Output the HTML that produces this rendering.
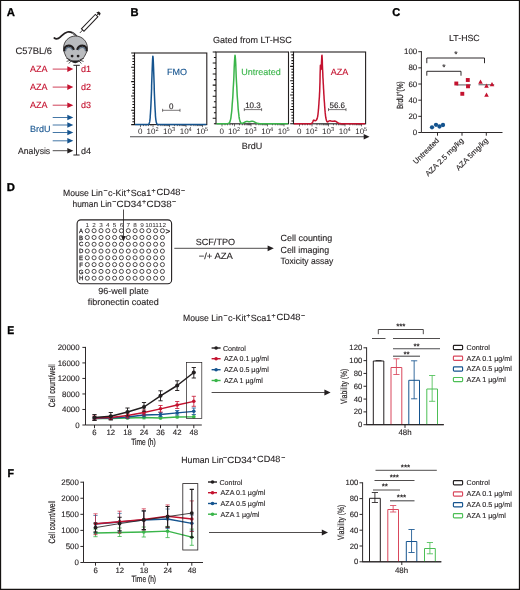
<!DOCTYPE html>
<html lang="en">
<head>
<meta charset="utf-8">
<title>Figure</title>
<style>
html,body{margin:0;padding:0;background:#fff;}
body{width:520px;height:590px;overflow:hidden;}
svg{display:block;}
svg text{font-family:"Liberation Sans",sans-serif;stroke-width:0.12px;text-rendering:geometricPrecision;}
</style>
</head>
<body>
<svg width="520" height="590" viewBox="0 0 520 590">
<rect x="0" y="0" width="520" height="590" fill="#fff"/>
<text transform="translate(6.8,15.8) scale(1,1)" font-size="11.3" font-weight="bold" fill="#000" stroke="#000" style="stroke-width:0.3px">A</text>
<text transform="translate(130.5,15.8) scale(0.99,1)" font-size="11.3" font-weight="bold" fill="#000" stroke="#000" style="stroke-width:0.3px">B</text>
<text transform="translate(392.3,15.7) scale(0.98,1)" font-size="11.3" font-weight="bold" fill="#000" stroke="#000" style="stroke-width:0.3px">C</text>
<text transform="translate(6.8,190.5) scale(1,1)" font-size="11.3" font-weight="bold" fill="#000" stroke="#000" style="stroke-width:0.3px">D</text>
<text transform="translate(7.3,333.9) scale(0.92,1)" font-size="11.3" font-weight="bold" fill="#000" stroke="#000" style="stroke-width:0.3px">E</text>
<text transform="translate(7.5,477.1) scale(0.94,1)" font-size="11.3" font-weight="bold" fill="#000" stroke="#000" style="stroke-width:0.3px">F</text>
<g transform="translate(79.800,33) rotate(-46)" stroke="#231f20" fill="none" stroke-width="1.050"><line x1="0" y1="0" x2="4.200" y2="0" stroke-width="0.8"/><rect x="4.200" y="-1.750" width="20" height="3.500" fill="#fff"/><line x1="24.200" y1="0" x2="27" y2="0" stroke-width="0.9"/><polygon points="26.300,-2.400 28.700,-1.200 28.700,1.200 26.300,2.400" fill="#231f20" stroke="none"/></g>
<g><path d="M54.300,38 C55.800,39.300 58,39.200 60.500,36.900 C62.700,34.800 64.500,32.600 67.500,32 C70.800,31.400 73.500,32.800 76.500,36" fill="none" stroke="#231f20" stroke-width="1.700" stroke-linecap="round"/><path d="M72,32.900 C73.800,33.500 75.300,34.700 76.600,36.200" fill="none" stroke="#a7a9ac" stroke-width="0.8"/><path d="M75.500,36 C82,36 87.400,41.200 87.400,48 C87.400,50.500 86.600,52.500 84.500,56.300 C83.300,58.300 82,59.500 80.500,60.500 C78.800,61.700 77,62.400 75.200,62.800 C73.400,62.400 71.600,61.700 69.900,60.500 C68.400,59.500 67.100,58.300 65.900,56.300 C64.100,52.500 63.600,50.500 63.600,48 C63.600,41.200 69,36 75.500,36 Z" fill="#babcbf" stroke="#231f20" stroke-width="0.8" stroke-linejoin="round"/><path d="M64.300,51.200 C64.200,47.600 66,45.700 68.600,45.700 C71.100,45.700 73,47.300 73.800,49.900" fill="none" stroke="#231f20" stroke-width="2.300"/><path d="M86.700,51.200 C86.800,47.600 85,45.700 82.400,45.700 C79.900,45.700 78,47.300 77.200,49.900" fill="none" stroke="#231f20" stroke-width="2.300"/><path d="M65.700,50.600 C65.800,48.500 67,47.400 68.800,47.400 C70.500,47.400 71.700,48.300 72.400,49.700" fill="none" stroke="#5d7186" stroke-width="1.100" stroke-linecap="round"/><path d="M85.300,50.600 C85.200,48.500 84,47.400 82.200,47.400 C80.500,47.400 79.300,48.300 78.600,49.700" fill="none" stroke="#5d7186" stroke-width="1.100" stroke-linecap="round"/><circle cx="72.100" cy="56.100" r="1.400" fill="#231f20"/><circle cx="78.100" cy="56.100" r="1.400" fill="#231f20"/><path d="M70.300,59.700 Q75.100,61.400 79.900,59.700 Q78,62.200 75.100,63 Q72.200,62.200 70.300,59.700 Z" fill="#231f20"/><path d="M70.300,59.700 L66.300,58.300 M70.300,60.300 L66.600,61.400 M71,61 L68.800,63.600 M79.900,59.700 L83.900,58.300 M79.900,60.300 L83.600,61.400 M79.200,61 L81.400,63.600" stroke="#231f20" stroke-width="0.75" fill="none"/></g>
<text x="15.6" y="53.8" font-size="9.4" fill="#231f20" stroke="#231f20">C57BL/6</text>
<line x1="76.5" y1="65.3" x2="76.5" y2="155" stroke="#231f20" stroke-width="0.9"/>
<line x1="73.4" y1="65.3" x2="79.8" y2="65.3" stroke="#231f20" stroke-width="1"/>
<line x1="73.4" y1="155" x2="79.6" y2="155" stroke="#231f20" stroke-width="1"/>
<text x="30" y="72.2" font-size="9" fill="#c4122f" stroke="#c4122f">AZA</text>
<line x1="52.7" y1="69.1" x2="67.8" y2="69.1" stroke="#c4122f" stroke-width="0.8"/>
<polygon points="73.3,69.1 67.3,66.3 67.3,71.9" fill="#c4122f"/>
<text x="81" y="72.2" font-size="9" fill="#c4122f" stroke="#c4122f">d1</text>
<text x="30" y="90.2" font-size="9" fill="#c4122f" stroke="#c4122f">AZA</text>
<line x1="52.7" y1="87.1" x2="67.8" y2="87.1" stroke="#c4122f" stroke-width="0.8"/>
<polygon points="73.3,87.1 67.3,84.3 67.3,89.9" fill="#c4122f"/>
<text x="81" y="90.2" font-size="9" fill="#c4122f" stroke="#c4122f">d2</text>
<text x="30" y="108.3" font-size="9" fill="#c4122f" stroke="#c4122f">AZA</text>
<line x1="52.7" y1="105.2" x2="67.8" y2="105.2" stroke="#c4122f" stroke-width="0.8"/>
<polygon points="73.3,105.2 67.3,102.4 67.3,108" fill="#c4122f"/>
<text x="81" y="108.3" font-size="9" fill="#c4122f" stroke="#c4122f">d3</text>
<line x1="52.7" y1="117.5" x2="67.8" y2="117.5" stroke="#15548f" stroke-width="0.8"/>
<polygon points="73.3,117.5 67.3,114.7 67.3,120.3" fill="#15548f"/>
<line x1="52.7" y1="125" x2="67.8" y2="125" stroke="#15548f" stroke-width="0.8"/>
<polygon points="73.3,125 67.3,122.2 67.3,127.8" fill="#15548f"/>
<line x1="52.7" y1="132.5" x2="67.8" y2="132.5" stroke="#15548f" stroke-width="0.8"/>
<polygon points="73.3,132.5 67.3,129.7 67.3,135.3" fill="#15548f"/>
<line x1="52.7" y1="140.8" x2="67.8" y2="140.8" stroke="#15548f" stroke-width="0.8"/>
<polygon points="73.3,140.8 67.3,138 67.3,143.6" fill="#15548f"/>
<text x="30" y="132" font-size="9" fill="#15548f" stroke="#15548f">BrdU</text>
<text x="18" y="154" font-size="9" fill="#231f20" stroke="#231f20" textLength="32.2" lengthAdjust="spacingAndGlyphs">Analysis</text>
<line x1="52.7" y1="150.7" x2="67.8" y2="150.7" stroke="#231f20" stroke-width="0.8"/>
<polygon points="73.3,150.7 67.3,147.9 67.3,153.5" fill="#231f20"/>
<text x="81" y="154" font-size="9" fill="#231f20" stroke="#231f20">d4</text>
<text x="213" y="43.2" font-size="9" fill="#231f20" stroke="#231f20">Gated from LT-HSC</text>
<rect x="134.5" y="53" width="72.3" height="71.6" fill="#fff" stroke="#231f20" stroke-width="1.1"/>
<path d="M131.2,53H134.5M132.4,55.86H134.5M132.4,58.73H134.5M132.4,61.59H134.5M132.4,64.46H134.5M131.2,67.32H134.5M132.4,70.18H134.5M132.4,73.05H134.5M132.4,75.91H134.5M132.4,78.78H134.5M131.2,81.64H134.5M132.4,84.5H134.5M132.4,87.37H134.5M132.4,90.23H134.5M132.4,93.1H134.5M131.2,95.96H134.5M132.4,98.82H134.5M132.4,101.69H134.5M132.4,104.55H134.5M132.4,107.42H134.5M131.2,110.28H134.5M132.4,113.14H134.5M132.4,116.01H134.5M132.4,118.87H134.5M132.4,121.74H134.5M131.2,124.6H134.5" stroke="#151211" stroke-width="1.050" fill="none"/>
<path d="M140.5,124.6V127.2M153,124.6V127.2M169.5,124.6V127.2M186,124.6V127.2M202.5,124.6V127.2M157.97,124.6V126.1M160.87,124.6V126.1M162.93,124.6V126.1M164.53,124.6V126.1M165.84,124.6V126.1M166.94,124.6V126.1M167.9,124.6V126.1M168.75,124.6V126.1M174.47,124.6V126.1M177.37,124.6V126.1M179.43,124.6V126.1M181.03,124.6V126.1M182.34,124.6V126.1M183.44,124.6V126.1M184.4,124.6V126.1M185.25,124.6V126.1M190.97,124.6V126.1M193.87,124.6V126.1M195.93,124.6V126.1M197.53,124.6V126.1M198.84,124.6V126.1M199.94,124.6V126.1M200.9,124.6V126.1M201.75,124.6V126.1M143.5,124.6V126.1M146,124.6V126.1M148.5,124.6V126.1M151,124.6V126.1" stroke="#231f20" stroke-width="0.65" fill="none"/>
<path d="M135,124.5 L147.0,124.5 L147.8,124.5 L147.9,124.4 L148.3,124.4 L148.4,124.3 L148.5,124.3 L148.6,124.2 L148.7,124.1 L148.8,124.1 L148.9,123.9 L148.9,123.8 L149.0,123.7 L149.1,123.5 L149.2,123.2 L149.3,123.0 L149.4,122.7 L149.5,122.3 L149.6,121.9 L149.7,121.4 L149.8,120.8 L149.9,120.1 L150.0,119.4 L150.1,118.5 L150.2,117.6 L150.2,116.5 L150.3,115.3 L150.4,114.0 L150.5,112.5 L150.6,110.9 L150.7,109.2 L150.8,107.4 L150.9,105.4 L151.0,103.3 L151.1,101.1 L151.2,98.8 L151.3,96.4 L151.4,93.9 L151.5,91.3 L151.6,88.6 L151.6,85.9 L151.7,83.2 L151.8,80.4 L151.9,77.6 L152.0,74.8 L152.1,71.9 L152.2,69.2 L152.3,66.5 L152.4,63.9 L152.5,61.6 L152.6,59.6 L152.7,58.0 L152.8,56.8 L152.8,56.2 L152.9,56.2 L153.0,56.8 L153.1,57.8 L153.2,59.4 L153.3,61.4 L153.4,63.7 L153.5,66.3 L153.6,68.9 L153.7,71.7 L153.8,74.5 L153.9,77.4 L154.0,80.2 L154.1,83.0 L154.2,85.7 L154.2,88.4 L154.3,91.1 L154.4,93.7 L154.5,96.2 L154.6,98.6 L154.7,100.9 L154.8,103.1 L154.9,105.3 L155.0,107.2 L155.1,109.1 L155.2,110.8 L155.3,112.4 L155.4,113.9 L155.4,115.2 L155.5,116.4 L155.6,117.5 L155.7,118.4 L155.8,119.3 L155.9,120.1 L156.0,120.7 L156.1,121.3 L156.2,121.8 L156.3,122.3 L156.4,122.6 L156.5,123.0 L156.6,123.2 L156.7,123.5 L156.8,123.6 L156.8,123.8 L156.9,123.9 L157.0,124.0 L157.1,124.1 L157.2,124.2 L157.3,124.3 L157.4,124.3 L157.5,124.4 L157.9,124.4 L158.0,124.5 L160.0,124.5 L206.3,124.5" fill="none" stroke="#15548f" stroke-width="1.5" stroke-linejoin="round"/>
<text x="167" y="75" font-size="9" fill="#15548f" stroke="#15548f">FMO</text>
<path d="M162.6,110.3H180M162.6,108.8V111.8M180,108.8V111.8" stroke="#231f20" stroke-width="0.6" fill="none"/>
<text x="171.3" y="108.8" font-size="8" fill="#231f20" stroke="#231f20" text-anchor="middle">0</text>
<text x="140.3" y="133.8" font-size="8" fill="#231f20" text-anchor="middle">0</text>
<text x="146.6" y="133.8" font-size="8" fill="#231f20">10<tspan dy="-2.8" font-size="5.6">2</tspan></text>
<text x="163.1" y="133.8" font-size="8" fill="#231f20">10<tspan dy="-2.8" font-size="5.6">3</tspan></text>
<text x="179.7" y="133.8" font-size="8" fill="#231f20">10<tspan dy="-2.8" font-size="5.6">4</tspan></text>
<text x="196.2" y="133.8" font-size="8" fill="#231f20">10<tspan dy="-2.8" font-size="5.6">5</tspan></text>
<rect x="216" y="52" width="72.5" height="71.8" fill="#fff" stroke="#231f20" stroke-width="1.1"/>
<path d="M212.7,52H216M213.9,57.52H216M212.7,63.05H216M213.9,68.57H216M212.7,74.09H216M213.9,79.62H216M212.7,85.14H216M213.9,90.66H216M212.7,96.18H216M213.9,101.71H216M212.7,107.23H216M213.9,112.75H216M212.7,118.28H216M213.9,123.8H216" stroke="#151211" stroke-width="1.050" fill="none"/>
<path d="M222,123.8V126.4M234.5,123.8V126.4M251,123.8V126.4M267.5,123.8V126.4M284,123.8V126.4M239.47,123.8V125.3M242.37,123.8V125.3M244.43,123.8V125.3M246.03,123.8V125.3M247.34,123.8V125.3M248.44,123.8V125.3M249.4,123.8V125.3M250.25,123.8V125.3M255.97,123.8V125.3M258.87,123.8V125.3M260.93,123.8V125.3M262.53,123.8V125.3M263.84,123.8V125.3M264.94,123.8V125.3M265.9,123.8V125.3M266.75,123.8V125.3M272.47,123.8V125.3M275.37,123.8V125.3M277.43,123.8V125.3M279.03,123.8V125.3M280.34,123.8V125.3M281.44,123.8V125.3M282.4,123.8V125.3M283.25,123.8V125.3M225,123.8V125.3M227.5,123.8V125.3M230,123.8V125.3M232.5,123.8V125.3" stroke="#231f20" stroke-width="0.65" fill="none"/>
<path d="M216.5,123.7 L227.0,123.7 L227.5,123.7 L227.8,123.6 L228.0,123.6 L228.2,123.5 L228.5,123.5 L228.8,123.3 L229.0,123.2 L229.2,122.9 L229.5,122.6 L229.8,122.2 L230.0,121.6 L230.2,120.8 L230.5,119.8 L230.8,118.6 L231.0,117.1 L231.2,115.2 L231.5,113.1 L231.8,110.5 L232.0,107.6 L232.2,104.4 L232.5,100.9 L232.8,97.1 L233.0,93.1 L233.2,88.8 L233.5,84.1 L233.8,79.0 L234.0,73.3 L234.2,67.3 L234.5,61.6 L234.8,57.2 L235.0,55.2 L235.2,56.1 L235.5,59.6 L235.8,64.9 L236.0,70.9 L236.2,76.8 L236.5,82.2 L236.8,87.0 L237.0,91.4 L237.2,95.5 L237.5,99.4 L237.8,103.0 L238.0,106.4 L238.2,109.4 L238.5,112.1 L238.8,114.4 L239.0,116.4 L239.2,118.0 L239.5,119.4 L239.8,120.4 L240.0,121.3 L240.2,121.9 L240.5,122.4 L240.8,122.7 L241.0,123.0 L241.2,123.2 L241.5,123.3 L242.5,123.3 L242.8,123.2 L243.0,123.1 L243.2,123.0 L243.5,122.9 L243.8,122.7 L244.0,122.6 L244.2,122.5 L244.5,122.3 L244.8,122.2 L245.0,122.0 L245.2,121.9 L245.5,121.8 L245.8,121.7 L246.0,121.6 L246.2,121.6 L246.5,121.5 L247.5,121.5 L247.8,121.6 L248.2,121.6 L248.5,121.7 L250.0,121.7 L250.2,121.6 L250.5,121.6 L250.8,121.5 L251.0,121.4 L251.2,121.4 L251.5,121.3 L252.0,121.3 L252.2,121.2 L252.5,121.3 L253.0,121.3 L253.2,121.4 L253.5,121.5 L253.8,121.6 L254.0,121.7 L254.2,121.8 L254.5,122.0 L254.8,122.1 L255.0,122.2 L255.2,122.4 L255.5,122.5 L255.8,122.7 L256.0,122.8 L256.2,122.9 L256.5,123.0 L256.8,123.1 L257.0,123.2 L257.2,123.3 L257.5,123.4 L257.8,123.4 L258.0,123.5 L258.2,123.5 L258.5,123.6 L259.2,123.6 L259.5,123.7 L262.0,123.7 L288,123.7" fill="none" stroke="#3ab54a" stroke-width="1.5" stroke-linejoin="round"/>
<text x="241.2" y="75" font-size="9" fill="#3ab54a" stroke="#3ab54a">Untreated</text>
<path d="M244.3,109.6H261.6M244.3,108.1V111.1M261.6,108.1V111.1" stroke="#231f20" stroke-width="0.6" fill="none"/>
<text x="252.95" y="108.1" font-size="8" fill="#231f20" stroke="#231f20" text-anchor="middle">10.3</text>
<text x="221.8" y="133.8" font-size="8" fill="#231f20" text-anchor="middle">0</text>
<text x="228.1" y="133.8" font-size="8" fill="#231f20">10<tspan dy="-2.8" font-size="5.6">2</tspan></text>
<text x="244.6" y="133.8" font-size="8" fill="#231f20">10<tspan dy="-2.8" font-size="5.6">3</tspan></text>
<text x="261.2" y="133.8" font-size="8" fill="#231f20">10<tspan dy="-2.8" font-size="5.6">4</tspan></text>
<text x="277.7" y="133.8" font-size="8" fill="#231f20">10<tspan dy="-2.8" font-size="5.6">5</tspan></text>
<rect x="293.5" y="52" width="72.1" height="71.8" fill="#fff" stroke="#231f20" stroke-width="1.1"/>
<path d="M290.2,52H293.5M291.4,54.87H293.5M291.4,57.74H293.5M291.4,60.62H293.5M291.4,63.49H293.5M290.2,66.36H293.5M291.4,69.23H293.5M291.4,72.1H293.5M291.4,74.98H293.5M291.4,77.85H293.5M290.2,80.72H293.5M291.4,83.59H293.5M291.4,86.46H293.5M291.4,89.34H293.5M291.4,92.21H293.5M290.2,95.08H293.5M291.4,97.95H293.5M291.4,100.82H293.5M291.4,103.7H293.5M291.4,106.57H293.5M290.2,109.44H293.5M291.4,112.31H293.5M291.4,115.18H293.5M291.4,118.06H293.5M291.4,120.93H293.5M290.2,123.8H293.5" stroke="#151211" stroke-width="1.050" fill="none"/>
<path d="M299.5,123.8V126.4M312,123.8V126.4M328.5,123.8V126.4M345,123.8V126.4M361.5,123.8V126.4M316.97,123.8V125.3M319.87,123.8V125.3M321.93,123.8V125.3M323.53,123.8V125.3M324.84,123.8V125.3M325.94,123.8V125.3M326.9,123.8V125.3M327.75,123.8V125.3M333.47,123.8V125.3M336.37,123.8V125.3M338.43,123.8V125.3M340.03,123.8V125.3M341.34,123.8V125.3M342.44,123.8V125.3M343.4,123.8V125.3M344.25,123.8V125.3M349.97,123.8V125.3M352.87,123.8V125.3M354.93,123.8V125.3M356.53,123.8V125.3M357.84,123.8V125.3M358.94,123.8V125.3M359.9,123.8V125.3M360.75,123.8V125.3M302.5,123.8V125.3M305,123.8V125.3M307.5,123.8V125.3M310,123.8V125.3" stroke="#231f20" stroke-width="0.65" fill="none"/>
<path d="M294,123.7 L309.0,123.7 L311.0,123.7 L311.2,123.6 L311.5,123.6 L311.6,123.5 L311.8,123.4 L311.9,123.2 L312.1,123.1 L312.2,122.8 L312.4,122.6 L312.6,122.3 L312.7,121.9 L312.9,121.6 L313.0,121.3 L313.2,120.9 L313.3,120.6 L313.5,120.4 L313.6,120.2 L313.8,120.1 L313.9,120.1 L314.1,120.2 L314.3,120.3 L314.4,120.4 L314.6,120.5 L314.7,120.6 L314.9,120.7 L315.0,120.8 L315.3,120.8 L315.5,120.7 L315.6,120.6 L315.8,120.5 L316.0,120.4 L316.1,120.3 L316.3,120.2 L316.4,120.0 L316.6,119.8 L316.7,119.5 L316.9,119.2 L317.0,118.9 L317.2,118.4 L317.3,117.8 L317.5,117.2 L317.7,116.3 L317.8,115.4 L318.0,114.3 L318.1,113.0 L318.3,111.5 L318.4,109.9 L318.6,108.1 L318.7,106.1 L318.9,104.0 L319.0,101.7 L319.2,99.3 L319.4,96.8 L319.5,94.1 L319.7,91.0 L319.8,86.9 L320.0,81.3 L320.1,74.6 L320.3,68.5 L320.4,65.2 L320.6,65.4 L320.7,67.4 L320.9,69.1 L321.1,69.3 L321.2,67.8 L321.4,65.3 L321.5,62.0 L321.7,58.5 L321.8,56.0 L322.0,55.2 L322.1,56.8 L322.3,60.3 L322.4,64.9 L322.6,69.5 L322.8,73.6 L322.9,77.1 L323.1,80.0 L323.2,82.7 L323.4,85.4 L323.5,88.1 L323.7,90.7 L323.8,93.4 L324.0,96.0 L324.1,98.5 L324.3,101.0 L324.5,103.3 L324.6,105.5 L324.8,107.6 L324.9,109.5 L325.1,111.3 L325.2,112.9 L325.4,114.3 L325.5,115.6 L325.7,116.8 L325.8,117.8 L326.0,118.6 L326.2,119.4 L326.3,120.0 L326.5,120.5 L326.6,120.9 L326.8,121.3 L326.9,121.5 L327.1,121.7 L327.2,121.8 L327.4,121.9 L327.7,121.9 L327.9,121.8 L328.0,121.7 L328.2,121.6 L328.3,121.5 L328.5,121.4 L328.6,121.3 L328.8,121.2 L328.9,121.1 L329.1,121.0 L329.2,120.9 L329.4,120.9 L329.6,120.8 L330.5,120.8 L330.6,120.9 L330.8,120.9 L330.9,121.0 L331.1,121.0 L331.3,121.1 L331.4,121.1 L331.6,121.2 L331.9,121.2 L332.0,121.3 L333.3,121.3 L333.4,121.2 L334.2,121.2 L334.3,121.1 L335.0,121.1 L335.1,121.2 L335.4,121.2 L335.6,121.3 L335.7,121.3 L335.9,121.4 L336.0,121.5 L336.2,121.6 L336.4,121.7 L336.5,121.8 L336.7,121.9 L336.8,122.0 L337.0,122.1 L337.1,122.3 L337.3,122.4 L337.4,122.5 L337.6,122.6 L337.7,122.7 L337.9,122.8 L338.1,122.9 L338.2,123.0 L338.4,123.1 L338.5,123.2 L338.7,123.3 L338.8,123.3 L339.0,123.4 L339.1,123.4 L339.3,123.5 L339.6,123.5 L339.8,123.6 L340.4,123.6 L340.5,123.7 L343.0,123.7 L365.1,123.7" fill="none" stroke="#c4122f" stroke-width="1.5" stroke-linejoin="round"/>
<text x="330.8" y="75" font-size="9" fill="#c4122f" stroke="#c4122f">AZA</text>
<path d="M328.5,109.6H346M328.5,108.1V111.1M346,108.1V111.1" stroke="#231f20" stroke-width="0.6" fill="none"/>
<text x="337.25" y="108.1" font-size="8" fill="#231f20" stroke="#231f20" text-anchor="middle">56.6</text>
<text x="299.3" y="133.8" font-size="8" fill="#231f20" text-anchor="middle">0</text>
<text x="305.6" y="133.8" font-size="8" fill="#231f20">10<tspan dy="-2.8" font-size="5.6">2</tspan></text>
<text x="322.1" y="133.8" font-size="8" fill="#231f20">10<tspan dy="-2.8" font-size="5.6">3</tspan></text>
<text x="338.7" y="133.8" font-size="8" fill="#231f20">10<tspan dy="-2.8" font-size="5.6">4</tspan></text>
<text x="355.2" y="133.8" font-size="8" fill="#231f20">10<tspan dy="-2.8" font-size="5.6">5</tspan></text>
<line x1="130" y1="136.8" x2="365" y2="136.8" stroke="#4d4d4f" stroke-width="1.1"/>
<polygon points="369.500,136.800 363.700,134 363.700,139.600" fill="#231f20"/>
<text x="252" y="148.8" font-size="9" fill="#231f20" stroke="#231f20" text-anchor="middle">BrdU</text>
<text x="464.4" y="41.3" font-size="8.8" fill="#231f20" stroke="#231f20" text-anchor="middle">LT-HSC</text>
<text x="417.2" y="54.3" font-size="7.9" fill="#231f20" stroke="#231f20" text-anchor="end">100</text>
<text x="417.2" y="70.46" font-size="7.9" fill="#231f20" stroke="#231f20" text-anchor="end">80</text>
<text x="417.2" y="86.62" font-size="7.9" fill="#231f20" stroke="#231f20" text-anchor="end">60</text>
<text x="417.2" y="102.78" font-size="7.9" fill="#231f20" stroke="#231f20" text-anchor="end">40</text>
<text x="417.2" y="118.94" font-size="7.9" fill="#231f20" stroke="#231f20" text-anchor="end">20</text>
<text x="417.2" y="135.1" font-size="7.9" fill="#231f20" stroke="#231f20" text-anchor="end">0</text>
<path d="M421.4,51.2V132.5H502.5M418.3,51.7H421.4M418.3,67.86H421.4M418.3,84.02H421.4M418.3,100.18H421.4M418.3,116.34H421.4M418.3,132.5H421.4" fill="none" stroke="#231f20" stroke-width="0.95" stroke-linejoin="miter"/>
<line x1="437.5" y1="132.5" x2="437.5" y2="135.7" stroke="#231f20" stroke-width="0.95"/>
<line x1="462" y1="132.5" x2="462" y2="135.7" stroke="#231f20" stroke-width="0.95"/>
<line x1="486.3" y1="132.5" x2="486.3" y2="135.7" stroke="#231f20" stroke-width="0.95"/>
<text transform="translate(402.9,95.2) rotate(-90) scale(0.733,1)" font-size="8.9" fill="#231f20" stroke="#231f20" style="stroke-width:0.2px" text-anchor="middle">BrdU<tspan dy="-2.8" font-size="6.5">+</tspan><tspan dy="2.8">(%)</tspan></text>
<circle cx="432" cy="127.3" r="2.15" fill="#15548f"/>
<circle cx="436" cy="124.8" r="2.15" fill="#15548f"/>
<circle cx="439.5" cy="126.5" r="2.15" fill="#15548f"/>
<circle cx="443" cy="125" r="2.15" fill="#15548f"/>
<line x1="456.5" y1="84.9" x2="471" y2="84.9" stroke="#808285" stroke-width="1.3"/>
<rect x="454.35" y="81.55" width="3.900" height="3.900" fill="#c4122f"/>
<rect x="465.85" y="78.05" width="3.900" height="3.900" fill="#c4122f"/>
<rect x="460.35" y="91.85" width="3.900" height="3.900" fill="#c4122f"/>
<rect x="466.05" y="84.35" width="3.900" height="3.900" fill="#c4122f"/>
<line x1="478.5" y1="84.7" x2="494.2" y2="84.7" stroke="#808285" stroke-width="1.3"/>
<polygon points="480.5,79.6 478.2,83.7 482.8,83.7" fill="#c4122f"/>
<polygon points="486.5,83.6 484.2,87.7 488.8,87.7" fill="#c4122f"/>
<polygon points="492,82.1 489.7,86.2 494.3,86.2" fill="#c4122f"/>
<polygon points="486.5,92.6 484.2,96.7 488.8,96.7" fill="#c4122f"/>
<path d="M426.800,63.200 V58 H484.500 V63.200" fill="none" stroke="#231f20" stroke-width="0.95"/>
<path d="M426.800,75.700 V71.300 H461 V75.700" fill="none" stroke="#231f20" stroke-width="0.95"/>
<text x="455.8" y="56.8" font-size="8.5" fill="#231f20" stroke="#231f20" text-anchor="middle">*</text>
<text x="443.8" y="70.1" font-size="8.5" fill="#231f20" stroke="#231f20" text-anchor="middle">*</text>
<text transform="translate(439.6,141) rotate(-45)" font-size="7.5" fill="#231f20" stroke="#231f20" text-anchor="end" textLength="33.3" lengthAdjust="spacingAndGlyphs">Untreated</text>
<text transform="translate(464.1,141) rotate(-45)" font-size="7.5" fill="#231f20" stroke="#231f20" text-anchor="end" textLength="50.6" lengthAdjust="spacingAndGlyphs">AZA 2.5 mg/kg</text>
<text transform="translate(488.6,141) rotate(-45)" font-size="7.5" fill="#231f20" stroke="#231f20" text-anchor="end" textLength="42.4" lengthAdjust="spacingAndGlyphs">AZA 5mg/kg</text>
<text font-size="9" fill="#231f20" stroke="#231f20"><tspan x="63" y="195.6" textLength="39.8" lengthAdjust="spacingAndGlyphs">Mouse Lin</tspan><tspan x="103.4" y="193.1" font-size="7">−</tspan><tspan x="108" y="195.6">c-Kit</tspan><tspan x="126.3" y="193" font-size="7">+</tspan><tspan x="130.8" y="195.6">Sca1</tspan><tspan x="151.5" y="193" font-size="7">+</tspan><tspan x="156.6" y="194.6" textLength="24" lengthAdjust="spacingAndGlyphs">CD48</tspan><tspan x="180.9" y="192.7" font-size="7">−</tspan></text>
<text font-size="9" fill="#231f20" stroke="#231f20"><tspan x="72.5" y="206.6" textLength="39.2" lengthAdjust="spacingAndGlyphs">human Lin</tspan><tspan x="112.2" y="203.5" font-size="7">−</tspan><tspan x="116.6" y="206.6" textLength="25" lengthAdjust="spacingAndGlyphs">CD34</tspan><tspan x="141.9" y="203.5" font-size="7">+</tspan><tspan x="146.6" y="206.6" textLength="25" lengthAdjust="spacingAndGlyphs">CD38</tspan><tspan x="172" y="203.5" font-size="7">−</tspan></text>
<rect x="77.100" y="219.900" width="94.500" height="63.900" rx="3.800" ry="3.800" fill="none" stroke="#231f20" stroke-width="1.100"/>
<text transform="translate(87.3,226.800) scale(1.12,1)" font-size="5.7" fill="#231f20" text-anchor="middle">1</text>
<text transform="translate(94.13,226.800) scale(1.12,1)" font-size="5.7" fill="#231f20" text-anchor="middle">2</text>
<text transform="translate(100.95,226.800) scale(1.12,1)" font-size="5.7" fill="#231f20" text-anchor="middle">3</text>
<text transform="translate(107.78,226.800) scale(1.12,1)" font-size="5.7" fill="#231f20" text-anchor="middle">4</text>
<text transform="translate(114.61,226.800) scale(1.12,1)" font-size="5.7" fill="#231f20" text-anchor="middle">5</text>
<text transform="translate(121.44,226.800) scale(1.12,1)" font-size="5.7" fill="#231f20" text-anchor="middle">6</text>
<text transform="translate(128.26,226.800) scale(1.12,1)" font-size="5.7" fill="#231f20" text-anchor="middle">7</text>
<text transform="translate(135.09,226.800) scale(1.12,1)" font-size="5.7" fill="#231f20" text-anchor="middle">8</text>
<text transform="translate(141.92,226.800) scale(1.12,1)" font-size="5.7" fill="#231f20" text-anchor="middle">9</text>
<text transform="translate(148.75,226.800) scale(1.12,1)" font-size="5.7" fill="#231f20" text-anchor="middle">10</text>
<text transform="translate(155.57,226.800) scale(1.12,1)" font-size="5.7" fill="#231f20" text-anchor="middle">11</text>
<text transform="translate(162.4,226.800) scale(1.12,1)" font-size="5.7" fill="#231f20" text-anchor="middle">12</text>
<text x="81.1" y="232.8" font-size="6.1" fill="#231f20" stroke="#231f20" text-anchor="middle" style="stroke-width:0.25px">A</text>
<circle cx="87.3" cy="230.7" r="2.050" fill="#fff" stroke="#231f20" stroke-width="0.8"/>
<circle cx="94.1" cy="230.7" r="2.050" fill="#fff" stroke="#231f20" stroke-width="0.8"/>
<circle cx="101.0" cy="230.7" r="2.050" fill="#fff" stroke="#231f20" stroke-width="0.8"/>
<circle cx="107.8" cy="230.7" r="2.050" fill="#fff" stroke="#231f20" stroke-width="0.8"/>
<circle cx="114.6" cy="230.7" r="2.050" fill="#fff" stroke="#231f20" stroke-width="0.8"/>
<circle cx="121.4" cy="230.7" r="2.050" fill="#fff" stroke="#231f20" stroke-width="0.8"/>
<circle cx="128.3" cy="230.7" r="2.050" fill="#fff" stroke="#231f20" stroke-width="0.8"/>
<circle cx="135.1" cy="230.7" r="2.050" fill="#fff" stroke="#231f20" stroke-width="0.8"/>
<circle cx="141.9" cy="230.7" r="2.050" fill="#fff" stroke="#231f20" stroke-width="0.8"/>
<circle cx="148.7" cy="230.7" r="2.050" fill="#fff" stroke="#231f20" stroke-width="0.8"/>
<circle cx="155.6" cy="230.7" r="2.050" fill="#fff" stroke="#231f20" stroke-width="0.8"/>
<circle cx="162.4" cy="230.7" r="2.050" fill="#fff" stroke="#231f20" stroke-width="0.8"/>
<text x="81.1" y="239.59" font-size="6.1" fill="#231f20" stroke="#231f20" text-anchor="middle" style="stroke-width:0.25px">B</text>
<circle cx="87.3" cy="237.5" r="2.050" fill="#fff" stroke="#231f20" stroke-width="0.8"/>
<circle cx="94.1" cy="237.5" r="2.050" fill="#fff" stroke="#231f20" stroke-width="0.8"/>
<circle cx="101.0" cy="237.5" r="2.050" fill="#fff" stroke="#231f20" stroke-width="0.8"/>
<circle cx="107.8" cy="237.5" r="2.050" fill="#fff" stroke="#231f20" stroke-width="0.8"/>
<circle cx="114.6" cy="237.5" r="2.050" fill="#fff" stroke="#231f20" stroke-width="0.8"/>
<circle cx="121.4" cy="237.5" r="2.050" fill="#fff" stroke="#231f20" stroke-width="0.8"/>
<circle cx="128.3" cy="237.5" r="2.050" fill="#fff" stroke="#231f20" stroke-width="0.8"/>
<circle cx="135.1" cy="237.5" r="2.050" fill="#fff" stroke="#231f20" stroke-width="0.8"/>
<circle cx="141.9" cy="237.5" r="2.050" fill="#fff" stroke="#231f20" stroke-width="0.8"/>
<circle cx="148.7" cy="237.5" r="2.050" fill="#fff" stroke="#231f20" stroke-width="0.8"/>
<circle cx="155.6" cy="237.5" r="2.050" fill="#fff" stroke="#231f20" stroke-width="0.8"/>
<circle cx="162.4" cy="237.5" r="2.050" fill="#fff" stroke="#231f20" stroke-width="0.8"/>
<text x="81.1" y="246.37" font-size="6.1" fill="#231f20" stroke="#231f20" text-anchor="middle" style="stroke-width:0.25px">C</text>
<circle cx="87.3" cy="244.3" r="2.050" fill="#fff" stroke="#231f20" stroke-width="0.8"/>
<circle cx="94.1" cy="244.3" r="2.050" fill="#fff" stroke="#231f20" stroke-width="0.8"/>
<circle cx="101.0" cy="244.3" r="2.050" fill="#fff" stroke="#231f20" stroke-width="0.8"/>
<circle cx="107.8" cy="244.3" r="2.050" fill="#fff" stroke="#231f20" stroke-width="0.8"/>
<circle cx="114.6" cy="244.3" r="2.050" fill="#fff" stroke="#231f20" stroke-width="0.8"/>
<circle cx="121.4" cy="244.3" r="2.050" fill="#fff" stroke="#231f20" stroke-width="0.8"/>
<circle cx="128.3" cy="244.3" r="2.050" fill="#fff" stroke="#231f20" stroke-width="0.8"/>
<circle cx="135.1" cy="244.3" r="2.050" fill="#fff" stroke="#231f20" stroke-width="0.8"/>
<circle cx="141.9" cy="244.3" r="2.050" fill="#fff" stroke="#231f20" stroke-width="0.8"/>
<circle cx="148.7" cy="244.3" r="2.050" fill="#fff" stroke="#231f20" stroke-width="0.8"/>
<circle cx="155.6" cy="244.3" r="2.050" fill="#fff" stroke="#231f20" stroke-width="0.8"/>
<circle cx="162.4" cy="244.3" r="2.050" fill="#fff" stroke="#231f20" stroke-width="0.8"/>
<text x="81.1" y="253.16" font-size="6.1" fill="#231f20" stroke="#231f20" text-anchor="middle" style="stroke-width:0.25px">D</text>
<circle cx="87.3" cy="251.1" r="2.050" fill="#fff" stroke="#231f20" stroke-width="0.8"/>
<circle cx="94.1" cy="251.1" r="2.050" fill="#fff" stroke="#231f20" stroke-width="0.8"/>
<circle cx="101.0" cy="251.1" r="2.050" fill="#fff" stroke="#231f20" stroke-width="0.8"/>
<circle cx="107.8" cy="251.1" r="2.050" fill="#fff" stroke="#231f20" stroke-width="0.8"/>
<circle cx="114.6" cy="251.1" r="2.050" fill="#fff" stroke="#231f20" stroke-width="0.8"/>
<circle cx="121.4" cy="251.1" r="2.050" fill="#fff" stroke="#231f20" stroke-width="0.8"/>
<circle cx="128.3" cy="251.1" r="2.050" fill="#fff" stroke="#231f20" stroke-width="0.8"/>
<circle cx="135.1" cy="251.1" r="2.050" fill="#fff" stroke="#231f20" stroke-width="0.8"/>
<circle cx="141.9" cy="251.1" r="2.050" fill="#fff" stroke="#231f20" stroke-width="0.8"/>
<circle cx="148.7" cy="251.1" r="2.050" fill="#fff" stroke="#231f20" stroke-width="0.8"/>
<circle cx="155.6" cy="251.1" r="2.050" fill="#fff" stroke="#231f20" stroke-width="0.8"/>
<circle cx="162.4" cy="251.1" r="2.050" fill="#fff" stroke="#231f20" stroke-width="0.8"/>
<text x="81.1" y="259.94" font-size="6.1" fill="#231f20" stroke="#231f20" text-anchor="middle" style="stroke-width:0.25px">E</text>
<circle cx="87.3" cy="257.8" r="2.050" fill="#fff" stroke="#231f20" stroke-width="0.8"/>
<circle cx="94.1" cy="257.8" r="2.050" fill="#fff" stroke="#231f20" stroke-width="0.8"/>
<circle cx="101.0" cy="257.8" r="2.050" fill="#fff" stroke="#231f20" stroke-width="0.8"/>
<circle cx="107.8" cy="257.8" r="2.050" fill="#fff" stroke="#231f20" stroke-width="0.8"/>
<circle cx="114.6" cy="257.8" r="2.050" fill="#fff" stroke="#231f20" stroke-width="0.8"/>
<circle cx="121.4" cy="257.8" r="2.050" fill="#fff" stroke="#231f20" stroke-width="0.8"/>
<circle cx="128.3" cy="257.8" r="2.050" fill="#fff" stroke="#231f20" stroke-width="0.8"/>
<circle cx="135.1" cy="257.8" r="2.050" fill="#fff" stroke="#231f20" stroke-width="0.8"/>
<circle cx="141.9" cy="257.8" r="2.050" fill="#fff" stroke="#231f20" stroke-width="0.8"/>
<circle cx="148.7" cy="257.8" r="2.050" fill="#fff" stroke="#231f20" stroke-width="0.8"/>
<circle cx="155.6" cy="257.8" r="2.050" fill="#fff" stroke="#231f20" stroke-width="0.8"/>
<circle cx="162.4" cy="257.8" r="2.050" fill="#fff" stroke="#231f20" stroke-width="0.8"/>
<text x="81.1" y="266.73" font-size="6.1" fill="#231f20" stroke="#231f20" text-anchor="middle" style="stroke-width:0.25px">F</text>
<circle cx="87.3" cy="264.6" r="2.050" fill="#fff" stroke="#231f20" stroke-width="0.8"/>
<circle cx="94.1" cy="264.6" r="2.050" fill="#fff" stroke="#231f20" stroke-width="0.8"/>
<circle cx="101.0" cy="264.6" r="2.050" fill="#fff" stroke="#231f20" stroke-width="0.8"/>
<circle cx="107.8" cy="264.6" r="2.050" fill="#fff" stroke="#231f20" stroke-width="0.8"/>
<circle cx="114.6" cy="264.6" r="2.050" fill="#fff" stroke="#231f20" stroke-width="0.8"/>
<circle cx="121.4" cy="264.6" r="2.050" fill="#fff" stroke="#231f20" stroke-width="0.8"/>
<circle cx="128.3" cy="264.6" r="2.050" fill="#fff" stroke="#231f20" stroke-width="0.8"/>
<circle cx="135.1" cy="264.6" r="2.050" fill="#fff" stroke="#231f20" stroke-width="0.8"/>
<circle cx="141.9" cy="264.6" r="2.050" fill="#fff" stroke="#231f20" stroke-width="0.8"/>
<circle cx="148.7" cy="264.6" r="2.050" fill="#fff" stroke="#231f20" stroke-width="0.8"/>
<circle cx="155.6" cy="264.6" r="2.050" fill="#fff" stroke="#231f20" stroke-width="0.8"/>
<circle cx="162.4" cy="264.6" r="2.050" fill="#fff" stroke="#231f20" stroke-width="0.8"/>
<text x="81.1" y="273.51" font-size="6.1" fill="#231f20" stroke="#231f20" text-anchor="middle" style="stroke-width:0.25px">G</text>
<circle cx="87.3" cy="271.4" r="2.050" fill="#fff" stroke="#231f20" stroke-width="0.8"/>
<circle cx="94.1" cy="271.4" r="2.050" fill="#fff" stroke="#231f20" stroke-width="0.8"/>
<circle cx="101.0" cy="271.4" r="2.050" fill="#fff" stroke="#231f20" stroke-width="0.8"/>
<circle cx="107.8" cy="271.4" r="2.050" fill="#fff" stroke="#231f20" stroke-width="0.8"/>
<circle cx="114.6" cy="271.4" r="2.050" fill="#fff" stroke="#231f20" stroke-width="0.8"/>
<circle cx="121.4" cy="271.4" r="2.050" fill="#fff" stroke="#231f20" stroke-width="0.8"/>
<circle cx="128.3" cy="271.4" r="2.050" fill="#fff" stroke="#231f20" stroke-width="0.8"/>
<circle cx="135.1" cy="271.4" r="2.050" fill="#fff" stroke="#231f20" stroke-width="0.8"/>
<circle cx="141.9" cy="271.4" r="2.050" fill="#fff" stroke="#231f20" stroke-width="0.8"/>
<circle cx="148.7" cy="271.4" r="2.050" fill="#fff" stroke="#231f20" stroke-width="0.8"/>
<circle cx="155.6" cy="271.4" r="2.050" fill="#fff" stroke="#231f20" stroke-width="0.8"/>
<circle cx="162.4" cy="271.4" r="2.050" fill="#fff" stroke="#231f20" stroke-width="0.8"/>
<text x="81.1" y="280.3" font-size="6.1" fill="#231f20" stroke="#231f20" text-anchor="middle" style="stroke-width:0.25px">H</text>
<circle cx="87.3" cy="278.2" r="2.050" fill="#fff" stroke="#231f20" stroke-width="0.8"/>
<circle cx="94.1" cy="278.2" r="2.050" fill="#fff" stroke="#231f20" stroke-width="0.8"/>
<circle cx="101.0" cy="278.2" r="2.050" fill="#fff" stroke="#231f20" stroke-width="0.8"/>
<circle cx="107.8" cy="278.2" r="2.050" fill="#fff" stroke="#231f20" stroke-width="0.8"/>
<circle cx="114.6" cy="278.2" r="2.050" fill="#fff" stroke="#231f20" stroke-width="0.8"/>
<circle cx="121.4" cy="278.2" r="2.050" fill="#fff" stroke="#231f20" stroke-width="0.8"/>
<circle cx="128.3" cy="278.2" r="2.050" fill="#fff" stroke="#231f20" stroke-width="0.8"/>
<circle cx="135.1" cy="278.2" r="2.050" fill="#fff" stroke="#231f20" stroke-width="0.8"/>
<circle cx="141.9" cy="278.2" r="2.050" fill="#fff" stroke="#231f20" stroke-width="0.8"/>
<circle cx="148.7" cy="278.2" r="2.050" fill="#fff" stroke="#231f20" stroke-width="0.8"/>
<circle cx="155.6" cy="278.2" r="2.050" fill="#fff" stroke="#231f20" stroke-width="0.8"/>
<circle cx="162.4" cy="278.2" r="2.050" fill="#fff" stroke="#231f20" stroke-width="0.8"/>
<text x="168" y="233.6" font-size="8.2" fill="#231f20" stroke="#231f20" text-anchor="middle" style="stroke-width:0.25px">&gt;</text>
<line x1="123.5" y1="209.5" x2="123.5" y2="237" stroke="#231f20" stroke-width="0.8"/>
<polygon points="123.500,241.200 121.100,236 125.900,236" fill="#231f20"/>
<text x="123.4" y="293.6" font-size="9" fill="#231f20" stroke="#231f20" text-anchor="middle">96-well plate</text>
<text x="123.3" y="304.8" font-size="9" fill="#231f20" stroke="#231f20" text-anchor="middle">fibronectin coated</text>
<line x1="174.3" y1="248.3" x2="268.1" y2="248.3" stroke="#231f20" stroke-width="0.8"/>
<polygon points="273.8,248.3 267.6,245.4 267.6,251.2" fill="#231f20"/>
<text x="195.7" y="244.5" font-size="9" fill="#231f20" stroke="#231f20" textLength="39.4" lengthAdjust="spacingAndGlyphs">SCF/TPO</text>
<text x="198.7" y="258.8" font-size="9" fill="#231f20" stroke="#231f20" textLength="34.2" lengthAdjust="spacingAndGlyphs">−/+ AZA</text>
<text x="280.5" y="241.3" font-size="9" fill="#231f20" stroke="#231f20" textLength="51.8" lengthAdjust="spacingAndGlyphs">Cell counting</text>
<text x="280.5" y="252.6" font-size="9" fill="#231f20" stroke="#231f20" textLength="48.6" lengthAdjust="spacingAndGlyphs">Cell imaging</text>
<text x="280.5" y="263.8" font-size="9" fill="#231f20" stroke="#231f20" textLength="52.8" lengthAdjust="spacingAndGlyphs">Toxicity assay</text>
<text font-size="9" fill="#231f20" stroke="#231f20"><tspan x="183" y="320.8" textLength="39.8" lengthAdjust="spacingAndGlyphs">Mouse Lin</tspan><tspan x="223.4" y="318.3" font-size="7">−</tspan><tspan x="228" y="320.8">c-Kit</tspan><tspan x="246.3" y="318.2" font-size="7">+</tspan><tspan x="250.8" y="320.8">Sca1</tspan><tspan x="271.5" y="318.2" font-size="7">+</tspan><tspan x="276.6" y="319.8" textLength="24" lengthAdjust="spacingAndGlyphs">CD48</tspan><tspan x="300.9" y="317.9" font-size="7">−</tspan></text>
<text x="79.6" y="350" font-size="7.9" fill="#231f20" stroke="#231f20" text-anchor="end">20000</text>
<text x="79.6" y="365.52" font-size="7.9" fill="#231f20" stroke="#231f20" text-anchor="end">16000</text>
<text x="79.6" y="381.04" font-size="7.9" fill="#231f20" stroke="#231f20" text-anchor="end">12000</text>
<text x="79.6" y="396.56" font-size="7.9" fill="#231f20" stroke="#231f20" text-anchor="end">8000</text>
<text x="79.6" y="412.08" font-size="7.9" fill="#231f20" stroke="#231f20" text-anchor="end">4000</text>
<text x="79.6" y="427.6" font-size="7.9" fill="#231f20" stroke="#231f20" text-anchor="end">0</text>
<path d="M85.5,346.9V425H201.8M82.4,347.4H85.5M82.4,362.92H85.5M82.4,378.44H85.5M82.4,393.96H85.5M82.4,409.48H85.5M82.4,425H85.5" fill="none" stroke="#231f20" stroke-width="0.95" stroke-linejoin="miter"/>
<line x1="94.5" y1="425" x2="94.5" y2="428.2" stroke="#231f20" stroke-width="0.95"/>
<text x="94.5" y="434.7" font-size="7.8" fill="#231f20" stroke="#231f20" text-anchor="middle">6</text>
<line x1="110.8" y1="425" x2="110.8" y2="428.2" stroke="#231f20" stroke-width="0.95"/>
<text x="110.8" y="434.7" font-size="7.8" fill="#231f20" stroke="#231f20" text-anchor="middle">12</text>
<line x1="127.5" y1="425" x2="127.5" y2="428.2" stroke="#231f20" stroke-width="0.95"/>
<text x="127.5" y="434.7" font-size="7.8" fill="#231f20" stroke="#231f20" text-anchor="middle">18</text>
<line x1="144" y1="425" x2="144" y2="428.2" stroke="#231f20" stroke-width="0.95"/>
<text x="144" y="434.7" font-size="7.8" fill="#231f20" stroke="#231f20" text-anchor="middle">24</text>
<line x1="160.5" y1="425" x2="160.5" y2="428.2" stroke="#231f20" stroke-width="0.95"/>
<text x="160.5" y="434.7" font-size="7.8" fill="#231f20" stroke="#231f20" text-anchor="middle">36</text>
<line x1="177.2" y1="425" x2="177.2" y2="428.2" stroke="#231f20" stroke-width="0.95"/>
<text x="177.2" y="434.7" font-size="7.8" fill="#231f20" stroke="#231f20" text-anchor="middle">42</text>
<line x1="193.8" y1="425" x2="193.8" y2="428.2" stroke="#231f20" stroke-width="0.95"/>
<text x="193.8" y="434.7" font-size="7.8" fill="#231f20" stroke="#231f20" text-anchor="middle">48</text>
<text transform="translate(55,385.7) rotate(-90) scale(0.726,1)" font-size="9.2" fill="#231f20" stroke="#231f20" style="stroke-width:0.2px" text-anchor="middle">Cell count/well</text>
<text transform="translate(143.5,445.2) scale(0.724,1)" font-size="9.2" fill="#231f20" stroke="#231f20" style="stroke-width:0.2px" text-anchor="middle">Time (h)</text>
<path d="M94.5,418V419.3M92.9,418H96.1M92.9,419.3H96.1M110.8,418V419.3M109.2,418H112.4M109.2,419.3H112.4M127.5,417.3V419M125.9,417.3H129.1M125.9,419H129.1M144,416.3V419M142.4,416.3H145.6M142.4,419H145.6M160.5,417.3V419M158.9,417.3H162.1M158.9,419H162.1M177.2,416.3V418M175.6,416.3H178.8M175.6,418H178.8M193.8,416V417.8M192.2,416H195.4M192.2,417.8H195.4" fill="none" stroke="#3ab54a" stroke-width="0.6"/>
<polyline points="94.5,418.5 110.8,418.5 127.5,418 144,417.5 160.5,418 177.2,417 193.8,416.8" fill="none" stroke="#3ab54a" stroke-width="1.3" stroke-linejoin="round"/>
<circle cx="94.5" cy="418.5" r="1.8" fill="#3ab54a"/>
<circle cx="110.8" cy="418.5" r="1.8" fill="#3ab54a"/>
<circle cx="127.5" cy="418" r="1.8" fill="#3ab54a"/>
<circle cx="144" cy="417.5" r="1.8" fill="#3ab54a"/>
<circle cx="160.5" cy="418" r="1.8" fill="#3ab54a"/>
<circle cx="177.2" cy="417" r="1.8" fill="#3ab54a"/>
<circle cx="193.8" cy="416.8" r="1.8" fill="#3ab54a"/>
<path d="M94.5,417V420M92.4,417H96.6M92.4,420H96.6M110.8,416.5V419.5M108.7,416.5H112.9M108.7,419.5H112.9M127.5,415.5V418.5M125.4,415.5H129.6M125.4,418.5H129.6M144,413V417M141.9,413H146.1M141.9,417H146.1M160.5,412.5V416.5M158.4,412.5H162.6M158.4,416.5H162.6M177.2,410.5V415M175.1,410.5H179.3M175.1,415H179.3M193.8,408V414.5M191.7,408H195.9M191.7,414.5H195.9" fill="none" stroke="#15548f" stroke-width="0.8"/>
<polyline points="94.5,418.5 110.8,418 127.5,417 144,415 160.5,414.5 177.2,412.8 193.8,411.3" fill="none" stroke="#15548f" stroke-width="1.3" stroke-linejoin="round"/>
<circle cx="94.5" cy="418.5" r="1.8" fill="#15548f"/>
<circle cx="110.8" cy="418" r="1.8" fill="#15548f"/>
<circle cx="127.5" cy="417" r="1.8" fill="#15548f"/>
<circle cx="144" cy="415" r="1.8" fill="#15548f"/>
<circle cx="160.5" cy="414.5" r="1.8" fill="#15548f"/>
<circle cx="177.2" cy="412.8" r="1.8" fill="#15548f"/>
<circle cx="193.8" cy="411.3" r="1.8" fill="#15548f"/>
<path d="M94.5,416V420M92.4,416H96.6M92.4,420H96.6M110.8,415.5V419.5M108.7,415.5H112.9M108.7,419.5H112.9M127.5,413V418M125.4,413H129.6M125.4,418H129.6M144,410V415M141.9,410H146.1M141.9,415H146.1M160.5,405.5V412M158.4,405.5H162.6M158.4,412H162.6M177.2,401.5V408.5M175.1,401.5H179.3M175.1,408.5H179.3M193.8,396.3V406.3M191.7,396.3H195.9M191.7,406.3H195.9" fill="none" stroke="#c4122f" stroke-width="0.8"/>
<polyline points="94.5,418 110.8,417.5 127.5,415.5 144,412.5 160.5,408.8 177.2,405 193.8,401.3" fill="none" stroke="#c4122f" stroke-width="1.3" stroke-linejoin="round"/>
<circle cx="94.5" cy="418" r="1.8" fill="#c4122f"/>
<circle cx="110.8" cy="417.5" r="1.8" fill="#c4122f"/>
<circle cx="127.5" cy="415.5" r="1.8" fill="#c4122f"/>
<circle cx="144" cy="412.5" r="1.8" fill="#c4122f"/>
<circle cx="160.5" cy="408.8" r="1.8" fill="#c4122f"/>
<circle cx="177.2" cy="405" r="1.8" fill="#c4122f"/>
<circle cx="193.8" cy="401.3" r="1.8" fill="#c4122f"/>
<path d="M94.5,414.5V420.5M92.4,414.5H96.6M92.4,420.5H96.6M110.8,412.5V420M108.7,412.5H112.9M108.7,420H112.9M127.5,408V416M125.4,408H129.6M125.4,416H129.6M144,402.5V411.3M141.9,402.5H146.1M141.9,411.3H146.1M160.5,390.8V400.8M158.4,390.8H162.6M158.4,400.8H162.6M177.2,380.8V390.5M175.1,380.8H179.3M175.1,390.5H179.3M193.8,367.5V378M191.7,367.5H195.9M191.7,378H195.9" fill="none" stroke="#231f20" stroke-width="0.95"/>
<polyline points="94.5,417.5 110.8,416.3 127.5,412 144,407 160.5,395.8 177.2,385.5 193.8,372.5" fill="none" stroke="#231f20" stroke-width="1.5" stroke-linejoin="round"/>
<circle cx="94.5" cy="417.5" r="2.05" fill="#231f20"/>
<circle cx="110.8" cy="416.3" r="2.05" fill="#231f20"/>
<circle cx="127.5" cy="412" r="2.05" fill="#231f20"/>
<circle cx="144" cy="407" r="2.05" fill="#231f20"/>
<circle cx="160.5" cy="395.8" r="2.05" fill="#231f20"/>
<circle cx="177.2" cy="385.5" r="2.05" fill="#231f20"/>
<circle cx="193.8" cy="372.5" r="2.05" fill="#231f20"/>
<rect x="186.500" y="362.500" width="15.300" height="56" fill="none" stroke="#231f20" stroke-width="0.7"/>
<line x1="211.6" y1="348" x2="220.6" y2="348" stroke="#231f20" stroke-width="1.4"/>
<circle cx="216.1" cy="348" r="1.800" fill="#231f20"/>
<text x="223" y="350.6" font-size="7.1" fill="#231f20" stroke="#231f20">Control</text>
<line x1="211.6" y1="358.7" x2="220.6" y2="358.7" stroke="#c4122f" stroke-width="1.4"/>
<circle cx="216.1" cy="358.7" r="1.800" fill="#c4122f"/>
<text x="224.1" y="361.3" font-size="7.1" fill="#231f20" stroke="#231f20">AZA 0.1 µg/ml</text>
<line x1="211.6" y1="369.7" x2="220.6" y2="369.7" stroke="#15548f" stroke-width="1.4"/>
<circle cx="216.1" cy="369.7" r="1.800" fill="#15548f"/>
<text x="224.1" y="372.3" font-size="7.1" fill="#231f20" stroke="#231f20">AZA 0.5 µg/ml</text>
<line x1="211.6" y1="380.5" x2="220.6" y2="380.5" stroke="#3ab54a" stroke-width="1.4"/>
<circle cx="216.1" cy="380.5" r="1.800" fill="#3ab54a"/>
<text x="224.1" y="383.1" font-size="7.1" fill="#231f20" stroke="#231f20">AZA 1 µg/ml</text>
<line x1="211.6" y1="392.5" x2="324.9" y2="392.5" stroke="#231f20" stroke-width="0.8"/>
<polygon points="330.6,392.5 324.4,389.6 324.4,395.4" fill="#231f20"/>
<text x="362.2" y="350.4" font-size="7.7" fill="#231f20" stroke="#231f20" text-anchor="end">120</text>
<text x="362.2" y="363.22" font-size="7.7" fill="#231f20" stroke="#231f20" text-anchor="end">100</text>
<text x="362.2" y="376.03" font-size="7.7" fill="#231f20" stroke="#231f20" text-anchor="end">80</text>
<text x="362.2" y="388.85" font-size="7.7" fill="#231f20" stroke="#231f20" text-anchor="end">60</text>
<text x="362.2" y="401.67" font-size="7.7" fill="#231f20" stroke="#231f20" text-anchor="end">40</text>
<text x="362.2" y="414.48" font-size="7.7" fill="#231f20" stroke="#231f20" text-anchor="end">20</text>
<text x="362.2" y="427.3" font-size="7.7" fill="#231f20" stroke="#231f20" text-anchor="end">0</text>
<path d="M366.6,347.3V424.7H443.8M363.5,347.8H366.6M363.5,360.62H366.6M363.5,373.43H366.6M363.5,386.25H366.6M363.5,399.07H366.6M363.5,411.88H366.6M363.5,424.7H366.6" fill="none" stroke="#231f20" stroke-width="0.95" stroke-linejoin="miter"/>
<line x1="405" y1="424.7" x2="405" y2="427.9" stroke="#231f20" stroke-width="0.95"/>
<text x="405" y="435" font-size="7.9" fill="#231f20" stroke="#231f20" text-anchor="middle">48h</text>
<text transform="translate(346.8,386.4) rotate(-90) scale(0.743,1)" font-size="9" fill="#231f20" stroke="#231f20" style="stroke-width:0.2px" text-anchor="middle">Viability (%)</text>
<path d="M373.3,424.7 V361 H383.8 V424.7" fill="none" stroke="#231f20" stroke-width="1"/>
<line x1="375.6" y1="360.6" x2="381.5" y2="360.6" stroke="#231f20" stroke-width="0.9"/>
<path d="M391,424.7 V367.5 H401.8 V424.7" fill="none" stroke="#d9475c" stroke-width="1"/>
<path d="M396.4,358.8V374.5M393.3,358.8H399.5M393.3,374.5H399.5" fill="none" stroke="#d9475c" stroke-width="0.85"/>
<path d="M408.8,424.7 V380.3 H419.5 V424.7" fill="none" stroke="#15548f" stroke-width="1"/>
<path d="M414.15,360.8V398.8M411.05,360.8H417.25M411.05,398.8H417.25" fill="none" stroke="#15548f" stroke-width="0.85"/>
<path d="M426.8,424.7 V389 H437.5 V424.7" fill="none" stroke="#4cbf55" stroke-width="1"/>
<path d="M432.15,375.5V401.3M429.05,375.5H435.25M429.05,401.3H435.25" fill="none" stroke="#4cbf55" stroke-width="0.85"/>
<line x1="366.1" y1="424.7" x2="443.8" y2="424.7" stroke="#231f20" stroke-width="0.95"/>
<path d="M378.300,334.200 V329.500 H423.300 V334.200" fill="none" stroke="#231f20" stroke-width="0.8"/>
<text x="400.8" y="329.2" font-size="8" fill="#231f20" text-anchor="middle" font-weight="bold">***</text>
<line x1="372" y1="338.5" x2="385.5" y2="338.5" stroke="#231f20" stroke-width="0.8"/>
<line x1="393" y1="338.5" x2="440" y2="338.5" stroke="#231f20" stroke-width="0.8"/>
<text x="416.5" y="348.7" font-size="8" fill="#231f20" text-anchor="middle" font-weight="bold">**</text>
<line x1="393" y1="348.8" x2="440" y2="348.8" stroke="#4d4d4f" stroke-width="1.1"/>
<text x="406.5" y="356.8" font-size="8" fill="#231f20" text-anchor="middle" font-weight="bold">**</text>
<line x1="393" y1="356.2" x2="420" y2="356.2" stroke="#4d4d4f" stroke-width="1.1"/>
<rect x="453.4" y="345.35" width="9.200" height="4.200" rx="0.900" fill="#fff" stroke="#231f20" stroke-width="1.150"/>
<text x="466.6" y="349.9" font-size="7.2" fill="#231f20" stroke="#231f20">Control</text>
<rect x="453.4" y="356.15" width="9.200" height="4.200" rx="0.900" fill="#fff" stroke="#d9475c" stroke-width="1.150"/>
<text x="466.6" y="360.7" font-size="7.2" fill="#231f20" stroke="#231f20">AZA 0.1 µg/ml</text>
<rect x="453.4" y="366.85" width="9.200" height="4.200" rx="0.900" fill="#fff" stroke="#15548f" stroke-width="1.150"/>
<text x="466.6" y="371.4" font-size="7.2" fill="#231f20" stroke="#231f20">AZA 0.5 µg/ml</text>
<rect x="453.4" y="377.45" width="9.200" height="4.200" rx="0.900" fill="#fff" stroke="#4cbf55" stroke-width="1.150"/>
<text x="466.6" y="382" font-size="7.2" fill="#231f20" stroke="#231f20">AZA 1 µg/ml</text>
<text font-size="9" fill="#231f20" stroke="#231f20"><tspan x="181.3" y="462.6" textLength="42.2" lengthAdjust="spacingAndGlyphs">Human Lin</tspan><tspan x="223" y="459.8" font-size="7">−</tspan><tspan x="227.2" y="462.6" textLength="24.8" lengthAdjust="spacingAndGlyphs">CD34</tspan><tspan x="252.2" y="460.1" font-size="7">+</tspan><tspan x="257.1" y="461.6" textLength="23.2" lengthAdjust="spacingAndGlyphs">CD48</tspan><tspan x="281.3" y="459.7" font-size="7">−</tspan></text>
<text x="78.9" y="484.8" font-size="7.9" fill="#231f20" stroke="#231f20" text-anchor="end">2500</text>
<text x="78.9" y="500.86" font-size="7.9" fill="#231f20" stroke="#231f20" text-anchor="end">2000</text>
<text x="78.9" y="516.92" font-size="7.9" fill="#231f20" stroke="#231f20" text-anchor="end">1500</text>
<text x="78.9" y="532.98" font-size="7.9" fill="#231f20" stroke="#231f20" text-anchor="end">1000</text>
<text x="78.9" y="549.04" font-size="7.9" fill="#231f20" stroke="#231f20" text-anchor="end">500</text>
<text x="78.9" y="565.1" font-size="7.9" fill="#231f20" stroke="#231f20" text-anchor="end">0</text>
<path d="M83.5,481.7V562.5H203M80.4,482.2H83.5M80.4,498.26H83.5M80.4,514.32H83.5M80.4,530.38H83.5M80.4,546.44H83.5M80.4,562.5H83.5" fill="none" stroke="#231f20" stroke-width="0.95" stroke-linejoin="miter"/>
<line x1="95.5" y1="562.5" x2="95.5" y2="565.7" stroke="#231f20" stroke-width="0.95"/>
<text x="95.7" y="573" font-size="7.8" fill="#231f20" stroke="#231f20" text-anchor="middle">6</text>
<line x1="119.6" y1="562.5" x2="119.6" y2="565.7" stroke="#231f20" stroke-width="0.95"/>
<text x="119.8" y="573" font-size="7.8" fill="#231f20" stroke="#231f20" text-anchor="middle">12</text>
<line x1="143.8" y1="562.5" x2="143.8" y2="565.7" stroke="#231f20" stroke-width="0.95"/>
<text x="144" y="573" font-size="7.8" fill="#231f20" stroke="#231f20" text-anchor="middle">18</text>
<line x1="167.6" y1="562.5" x2="167.6" y2="565.7" stroke="#231f20" stroke-width="0.95"/>
<text x="167.8" y="573" font-size="7.8" fill="#231f20" stroke="#231f20" text-anchor="middle">24</text>
<line x1="191.8" y1="562.5" x2="191.8" y2="565.7" stroke="#231f20" stroke-width="0.95"/>
<text x="192" y="573" font-size="7.8" fill="#231f20" stroke="#231f20" text-anchor="middle">48</text>
<text transform="translate(55,522) rotate(-90) scale(0.726,1)" font-size="9.2" fill="#231f20" stroke="#231f20" style="stroke-width:0.2px" text-anchor="middle">Cell count/well</text>
<text transform="translate(143.8,582.3) scale(0.724,1)" font-size="9.2" fill="#231f20" stroke="#231f20" style="stroke-width:0.2px" text-anchor="middle">Time (h)</text>
<path d="M95.5,529V536.7M93.4,529H97.6M93.4,536.7H97.6M119.6,528V536.5M117.5,528H121.7M117.5,536.5H121.7M143.8,527V537M141.7,527H145.9M141.7,537H145.9M167.6,526.4V537.6M165.5,526.4H169.7M165.5,537.6H169.7M191.8,529.1V545.3M189.7,529.1H193.9M189.7,545.3H193.9" fill="none" stroke="#3ab54a" stroke-width="0.8"/>
<polyline points="95.5,533 119.6,532.5 143.8,532 167.6,531.2 191.8,537.2" fill="none" stroke="#3ab54a" stroke-width="1.3" stroke-linejoin="round"/>
<circle cx="95.5" cy="533" r="1.8" fill="#3ab54a"/>
<circle cx="119.6" cy="532.5" r="1.8" fill="#3ab54a"/>
<circle cx="143.8" cy="532" r="1.8" fill="#3ab54a"/>
<circle cx="167.6" cy="531.2" r="1.8" fill="#3ab54a"/>
<circle cx="191.8" cy="537.2" r="1.8" fill="#3ab54a"/>
<path d="M95.5,515.5V533M93.4,515.5H97.6M93.4,533H97.6M119.6,513.4V532M117.5,513.4H121.7M117.5,532H121.7M143.8,511V530M141.7,511H145.9M141.7,530H145.9M167.6,509V528.5M165.5,509H169.7M165.5,528.5H169.7M191.8,515V531M189.7,515H193.9M189.7,531H193.9" fill="none" stroke="#15548f" stroke-width="0.65"/>
<polyline points="95.5,524 119.6,522 143.8,520 167.6,519 191.8,523.3" fill="none" stroke="#15548f" stroke-width="1.3" stroke-linejoin="round"/>
<circle cx="95.5" cy="524" r="1.8" fill="#15548f"/>
<circle cx="119.6" cy="522" r="1.8" fill="#15548f"/>
<circle cx="143.8" cy="520" r="1.8" fill="#15548f"/>
<circle cx="167.6" cy="519" r="1.8" fill="#15548f"/>
<circle cx="191.8" cy="523.3" r="1.8" fill="#15548f"/>
<path d="M95.5,513.8V534.7M93.4,513.8H97.6M93.4,534.7H97.6M119.6,511.2V533M117.5,511.2H121.7M117.5,533H121.7M143.8,508.8V530M141.7,508.8H145.9M141.7,530H145.9M167.6,504.9V527.4M165.5,504.9H169.7M165.5,527.4H169.7M191.8,500.9V531.5M189.7,500.9H193.9M189.7,531.5H193.9" fill="none" stroke="#c4122f" stroke-width="0.65"/>
<polyline points="95.5,523.8 119.6,521.8 143.8,519.5 167.6,516.3 191.8,519" fill="none" stroke="#c4122f" stroke-width="1.4" stroke-linejoin="round"/>
<circle cx="95.5" cy="523.8" r="1.8" fill="#c4122f"/>
<circle cx="119.6" cy="521.8" r="1.8" fill="#c4122f"/>
<circle cx="143.8" cy="519.5" r="1.8" fill="#c4122f"/>
<circle cx="167.6" cy="516.3" r="1.8" fill="#c4122f"/>
<circle cx="191.8" cy="519" r="1.8" fill="#c4122f"/>
<path d="M95.5,523V532M93.4,523H97.6M93.4,532H97.6M119.6,517.2V530.7M117.5,517.2H121.7M117.5,530.7H121.7M143.8,510.9V529.5M141.7,510.9H145.9M141.7,529.5H145.9M167.6,506.5V527.1M165.5,506.5H169.7M165.5,527.1H169.7M191.8,489.4V537.2M189.7,489.4H193.9M189.7,537.2H193.9" fill="none" stroke="#231f20" stroke-width="1.15"/>
<polyline points="95.5,527.6 119.6,523.6 143.8,520 167.6,516.6 191.8,513.1" fill="none" stroke="#231f20" stroke-width="0.85" stroke-linejoin="round"/>
<circle cx="95.5" cy="527.6" r="1.9" fill="#231f20"/>
<circle cx="119.6" cy="523.6" r="1.9" fill="#231f20"/>
<circle cx="143.8" cy="520" r="1.9" fill="#231f20"/>
<circle cx="167.6" cy="516.6" r="1.9" fill="#231f20"/>
<circle cx="191.8" cy="513.1" r="1.9" fill="#231f20"/>
<circle cx="191.800" cy="537.200" r="1.300" fill="#231f20"/>
<rect x="182.800" y="483.600" width="15" height="66.400" fill="none" stroke="#231f20" stroke-width="0.8"/>
<line x1="208" y1="482" x2="217" y2="482" stroke="#231f20" stroke-width="1.4"/>
<circle cx="212.5" cy="482" r="1.800" fill="#231f20"/>
<text x="219.5" y="484.6" font-size="7.1" fill="#231f20" stroke="#231f20">Control</text>
<line x1="208" y1="492.7" x2="217" y2="492.7" stroke="#c4122f" stroke-width="1.4"/>
<circle cx="212.5" cy="492.7" r="1.800" fill="#c4122f"/>
<text x="220.6" y="495.3" font-size="7.1" fill="#231f20" stroke="#231f20">AZA 0.1 µg/ml</text>
<line x1="208" y1="503.5" x2="217" y2="503.5" stroke="#15548f" stroke-width="1.4"/>
<circle cx="212.5" cy="503.5" r="1.800" fill="#15548f"/>
<text x="220.6" y="506.1" font-size="7.1" fill="#231f20" stroke="#231f20">AZA 0.5 µg/ml</text>
<line x1="208" y1="514.2" x2="217" y2="514.2" stroke="#3ab54a" stroke-width="1.4"/>
<circle cx="212.5" cy="514.2" r="1.800" fill="#3ab54a"/>
<text x="220.6" y="516.8" font-size="7.1" fill="#231f20" stroke="#231f20">AZA 1 µg/ml</text>
<line x1="209" y1="532.5" x2="322.3" y2="532.5" stroke="#231f20" stroke-width="0.8"/>
<polygon points="328,532.5 321.8,529.6 321.8,535.4" fill="#231f20"/>
<text x="358.4" y="485.4" font-size="7.7" fill="#231f20" stroke="#231f20" text-anchor="end">100</text>
<text x="358.4" y="501.2" font-size="7.7" fill="#231f20" stroke="#231f20" text-anchor="end">80</text>
<text x="358.4" y="517" font-size="7.7" fill="#231f20" stroke="#231f20" text-anchor="end">60</text>
<text x="358.4" y="532.8" font-size="7.7" fill="#231f20" stroke="#231f20" text-anchor="end">40</text>
<text x="358.4" y="548.6" font-size="7.7" fill="#231f20" stroke="#231f20" text-anchor="end">20</text>
<text x="358.4" y="564.4" font-size="7.7" fill="#231f20" stroke="#231f20" text-anchor="end">0</text>
<path d="M362.6,482.3V561.8H441.3M359.5,482.8H362.6M359.5,498.6H362.6M359.5,514.4H362.6M359.5,530.2H362.6M359.5,546H362.6M359.5,561.8H362.6" fill="none" stroke="#231f20" stroke-width="0.95" stroke-linejoin="miter"/>
<line x1="401.8" y1="561.8" x2="401.8" y2="565" stroke="#231f20" stroke-width="0.95"/>
<text x="401.5" y="572.6" font-size="7.9" fill="#231f20" stroke="#231f20" text-anchor="middle">48h</text>
<text transform="translate(343.6,522.4) rotate(-90) scale(0.743,1)" font-size="9" fill="#231f20" stroke="#231f20" style="stroke-width:0.2px" text-anchor="middle">Viability (%)</text>
<path d="M369.5,561.8 V498.3 H380.3 V561.8" fill="none" stroke="#231f20" stroke-width="1"/>
<path d="M374.9,492.5V502.5M371.8,492.5H378M371.8,502.5H378" fill="none" stroke="#231f20" stroke-width="0.85"/>
<path d="M387.8,561.8 V509.5 H398.5 V561.8" fill="none" stroke="#d9475c" stroke-width="1"/>
<path d="M393.15,505.5V512M390.05,505.5H396.25M390.05,512H396.25" fill="none" stroke="#d9475c" stroke-width="0.85"/>
<path d="M406.3,561.8 V541.5 H416.8 V561.8" fill="none" stroke="#15548f" stroke-width="1"/>
<path d="M411.55,529.5V552.5M408.45,529.5H414.65M408.45,552.5H414.65" fill="none" stroke="#15548f" stroke-width="0.85"/>
<path d="M424.5,561.8 V548.5 H435.3 V561.8" fill="none" stroke="#4cbf55" stroke-width="1"/>
<path d="M429.9,542.5V553.8M426.8,542.5H433M426.8,553.8H433" fill="none" stroke="#4cbf55" stroke-width="0.85"/>
<line x1="362.1" y1="561.8" x2="441.3" y2="561.8" stroke="#231f20" stroke-width="0.95"/>
<line x1="375.5" y1="470.3" x2="436.8" y2="470.3" stroke="#231f20" stroke-width="0.8"/>
<text x="405.5" y="469.7" font-size="8" fill="#231f20" text-anchor="middle" font-weight="bold">***</text>
<line x1="374.5" y1="480.5" x2="414.5" y2="480.5" stroke="#231f20" stroke-width="0.8"/>
<text x="394.3" y="479.9" font-size="8" fill="#231f20" text-anchor="middle" font-weight="bold">***</text>
<line x1="373" y1="490" x2="400" y2="490" stroke="#231f20" stroke-width="0.8"/>
<text x="384.8" y="489.4" font-size="8" fill="#231f20" text-anchor="middle" font-weight="bold">**</text>
<line x1="390" y1="500.8" x2="414.5" y2="500.8" stroke="#4d4d4f" stroke-width="1.1"/>
<text x="401.5" y="500.2" font-size="8" fill="#231f20" text-anchor="middle" font-weight="bold">***</text>
<rect x="453.4" y="480.65" width="9.200" height="4.200" rx="0.900" fill="#fff" stroke="#231f20" stroke-width="1.150"/>
<text x="466.6" y="485.2" font-size="7.2" fill="#231f20" stroke="#231f20">Control</text>
<rect x="453.4" y="491.85" width="9.200" height="4.200" rx="0.900" fill="#fff" stroke="#d9475c" stroke-width="1.150"/>
<text x="466.6" y="496.4" font-size="7.2" fill="#231f20" stroke="#231f20">AZA 0.1 µg/ml</text>
<rect x="453.4" y="502.65" width="9.200" height="4.200" rx="0.900" fill="#fff" stroke="#15548f" stroke-width="1.150"/>
<text x="466.6" y="507.2" font-size="7.2" fill="#231f20" stroke="#231f20">AZA 0.5 µg/ml</text>
<rect x="453.4" y="513.65" width="9.200" height="4.200" rx="0.900" fill="#fff" stroke="#4cbf55" stroke-width="1.150"/>
<text x="466.6" y="518.2" font-size="7.2" fill="#231f20" stroke="#231f20">AZA 1 µg/ml</text>
<path d="M0,0H520V590H0Z M1.150,1.050V588.850H518.850V1.050Z" fill="#151211" fill-rule="evenodd"/>
</svg>
</body>
</html>
